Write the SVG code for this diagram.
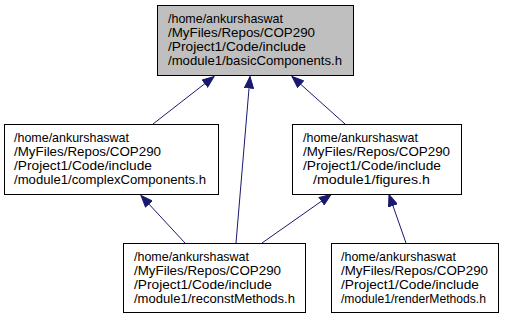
<svg xmlns="http://www.w3.org/2000/svg" width="512" height="319" viewBox="0 0 512 319">
  <defs>
    <marker id="arrow" markerUnits="userSpaceOnUse" markerWidth="14" markerHeight="10" refX="12" refY="5" orient="auto">
      <path d="M0.5,0.5 L12,5 L0.5,9.5 z" fill="#191970" stroke="#191970" stroke-width="1"/>
    </marker>
  </defs>
  <style>
    .box { fill: #ffffff; stroke: #000000; stroke-width: 1; }
    .box.current { fill: #bfbfbf; }
    .lbl { font-family: "Liberation Sans", Arial, Helvetica, sans-serif; font-size: 12.6px; fill: #000000; }
    .edge { fill: none; stroke: #191970; stroke-width: 1; marker-end: url(#arrow); }
  </style>
  <rect width="512" height="319" fill="#ffffff"/>

  <!-- include dependency edges -->
  <g id="edges">
    <line class="edge" x1="153" y1="124" x2="214" y2="76.5"/>
    <line class="edge" x1="236" y1="243" x2="250" y2="76.5"/>
    <line class="edge" x1="345" y1="124" x2="292" y2="76.5"/>
    <line class="edge" x1="185" y1="243" x2="141" y2="195.5"/>
    <line class="edge" x1="262" y1="243" x2="331" y2="194.5"/>
    <line class="edge" x1="406" y1="243" x2="389" y2="194.5"/>
  </g>

  <g id="basicComponents">
    <rect class="box current" x="157.5" y="5.5" width="196" height="70"/>
    <text class="lbl" x="168" y="22.5" textLength="115" lengthAdjust="spacingAndGlyphs">/home/ankurshaswat</text>
    <text class="lbl" x="168" y="36.5" textLength="147" lengthAdjust="spacingAndGlyphs">/MyFiles/Repos/COP290</text>
    <text class="lbl" x="168" y="50.5" textLength="138" lengthAdjust="spacingAndGlyphs">/Project1/Code/include</text>
    <text class="lbl" x="168" y="64.5" textLength="174" lengthAdjust="spacingAndGlyphs">/module1/basicComponents.h</text>
  </g>

  <g id="complexComponents">
    <rect class="box" x="4.5" y="124.5" width="214" height="70"/>
    <text class="lbl" x="14" y="141.5" textLength="115" lengthAdjust="spacingAndGlyphs">/home/ankurshaswat</text>
    <text class="lbl" x="14" y="155.5" textLength="147" lengthAdjust="spacingAndGlyphs">/MyFiles/Repos/COP290</text>
    <text class="lbl" x="14" y="169.5" textLength="138" lengthAdjust="spacingAndGlyphs">/Project1/Code/include</text>
    <text class="lbl" x="14" y="183.5" textLength="192" lengthAdjust="spacingAndGlyphs">/module1/complexComponents.h</text>
  </g>

  <g id="figures">
    <rect class="box" x="292.5" y="124.5" width="169" height="70"/>
    <text class="lbl" x="303" y="141.5" textLength="115" lengthAdjust="spacingAndGlyphs">/home/ankurshaswat</text>
    <text class="lbl" x="303" y="155.5" textLength="147" lengthAdjust="spacingAndGlyphs">/MyFiles/Repos/COP290</text>
    <text class="lbl" x="303" y="169.5" textLength="138" lengthAdjust="spacingAndGlyphs">/Project1/Code/include</text>
    <text class="lbl" x="313" y="183.5" textLength="117" lengthAdjust="spacingAndGlyphs">/module1/figures.h</text>
  </g>

  <g id="reconstMethods">
    <rect class="box" x="123.5" y="243.5" width="182" height="69"/>
    <text class="lbl" x="134" y="260.5" textLength="115" lengthAdjust="spacingAndGlyphs">/home/ankurshaswat</text>
    <text class="lbl" x="134" y="274.5" textLength="147" lengthAdjust="spacingAndGlyphs">/MyFiles/Repos/COP290</text>
    <text class="lbl" x="134" y="288.5" textLength="138" lengthAdjust="spacingAndGlyphs">/Project1/Code/include</text>
    <text class="lbl" x="134" y="302.5" textLength="161" lengthAdjust="spacingAndGlyphs">/module1/reconstMethods.h</text>
  </g>

  <g id="renderMethods">
    <rect class="box" x="331.5" y="243.5" width="167" height="69"/>
    <text class="lbl" x="341" y="260.5" textLength="115" lengthAdjust="spacingAndGlyphs">/home/ankurshaswat</text>
    <text class="lbl" x="341" y="274.5" textLength="147" lengthAdjust="spacingAndGlyphs">/MyFiles/Repos/COP290</text>
    <text class="lbl" x="341" y="288.5" textLength="138" lengthAdjust="spacingAndGlyphs">/Project1/Code/include</text>
    <text class="lbl" x="341" y="302.5" textLength="145" lengthAdjust="spacingAndGlyphs">/module1/renderMethods.h</text>
  </g>
</svg>
